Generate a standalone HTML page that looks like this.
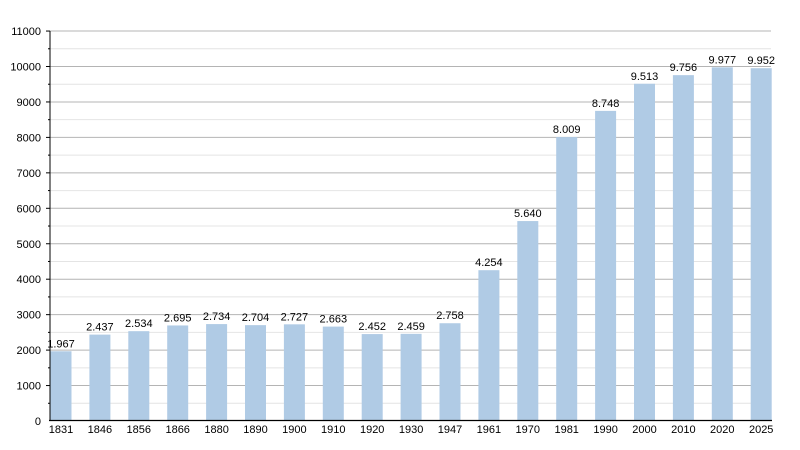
<!DOCTYPE html>
<html><head><meta charset="utf-8"><style>
html,body{margin:0;padding:0;background:#fff;width:800px;height:450px;overflow:hidden}
svg{display:block;font-family:"Liberation Sans",Arial,sans-serif}
</style></head><body>
<svg id="c" width="800" height="450" xmlns="http://www.w3.org/2000/svg"></svg>
<script>
var vals=[1967,2437,2534,2695,2734,2704,2727,2663,2452,2459,2758,4254,5640,8009,8748,9513,9756,9977,9952];
var yrs=[1831,1846,1856,1866,1880,1890,1900,1910,1920,1930,1947,1961,1970,1981,1990,2000,2010,2020,2025];
var s='',k=0.03545,base=421;
for(var v=500;v<=11000;v+=500){var y=base-v*k;
 if(v%1000==0){s+='<line x1="50" x2="771" y1="'+y+'" y2="'+y+'" stroke="#b4b4b4" stroke-width="1"/>';
  s+='<text x="41" y="'+(y+4)+'" font-size="11" text-anchor="end" fill="#000">'+v+'</text>';
  s+='<line x1="46" x2="50" y1="'+y+'" y2="'+y+'" stroke="#000"/>';}
 else{s+='<line x1="50" x2="771" y1="'+y+'" y2="'+y+'" stroke="#e4e4e4" stroke-width="1"/>';
  s+='<line x1="48" x2="50" y1="'+y+'" y2="'+y+'" stroke="#000"/>';}
}
s+='<text x="41" y="425" font-size="11" text-anchor="end">0</text>';
for(var i=0;i<vals.length;i++){var x=50.5+38.9*i,h=vals[i]*k;
 s+='<rect x="'+x+'" y="'+(base-h)+'" width="21" height="'+h+'" fill="#b0cbe5"/>';
 s+='<text x="'+(x+10.5)+'" y="'+(base-h-4)+'" font-size="11" text-anchor="middle">'+(vals[i]/1000).toFixed(3)+'</text>';
 s+='<text x="'+(x+10.5)+'" y="433" font-size="11" text-anchor="middle">'+yrs[i]+'</text>';}
s+='<line x1="50" x2="50" y1="31" y2="421" stroke="#000"/>';
s+='<line x1="49" x2="772" y1="420.5" y2="420.5" stroke="#000" stroke-width="1.3"/>';
document.getElementById('c').innerHTML=s;
</script>
</body></html>
